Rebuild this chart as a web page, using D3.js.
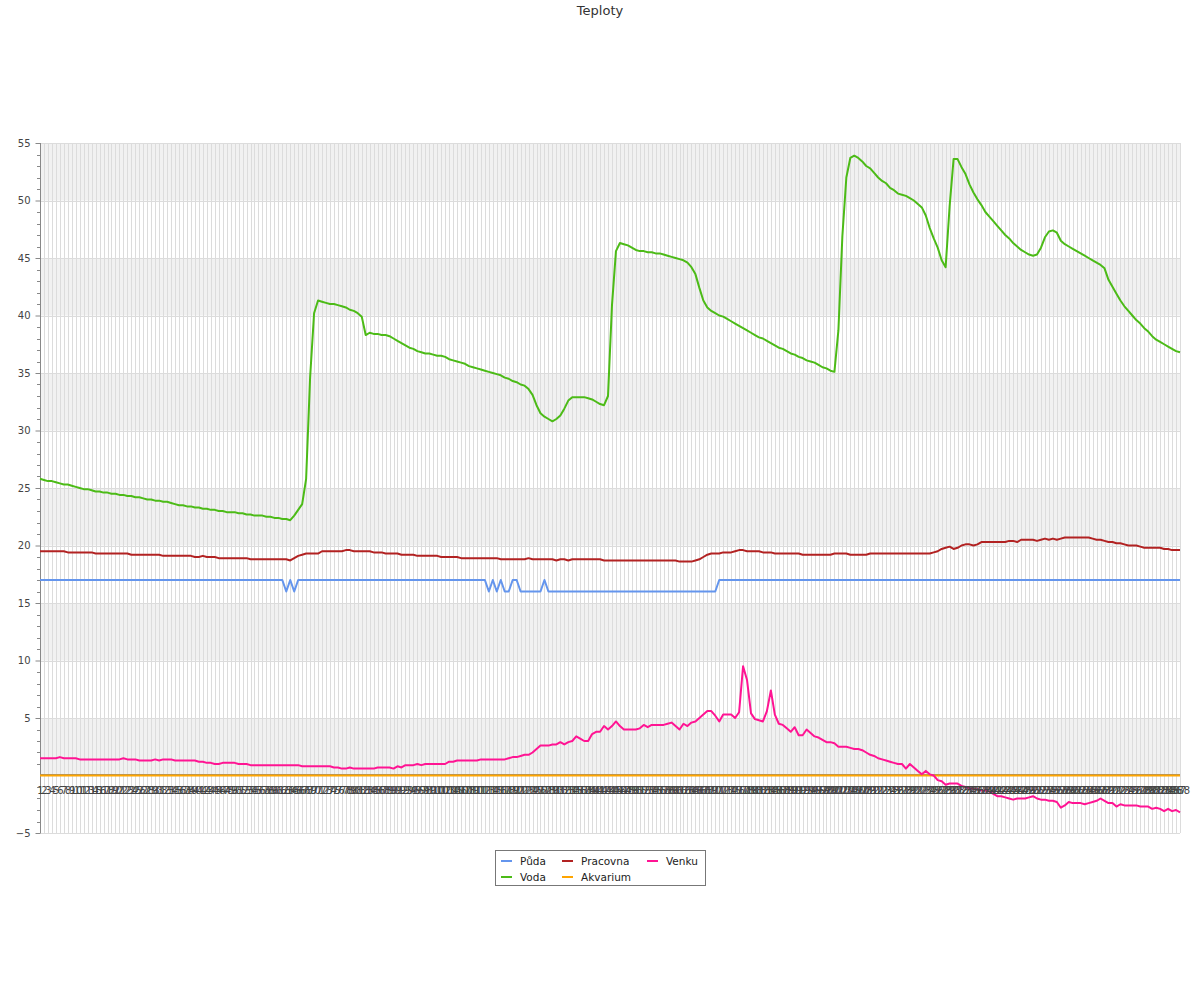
<!DOCTYPE html>
<html>
<head>
<meta charset="utf-8">
<script src="https://cdn.jsdelivr.net/npm/d3@7"></script>
<style>
  html, body { margin: 0; padding: 0; background: #fff; }
  svg { display: block; font-family: "DejaVu Sans", sans-serif; }
</style>
</head>
<body>
<svg id="chart" width="1200" height="1000"></svg>
<script>
const title = "Teploty";
const categories = d3.range(1, 289).map(String);
const yTickValues = [-5, 5, 10, 15, 20, 25, 30, 35, 40, 45, 50, 55];
const seriesNames = ["Půda", "Voda", "Pracovna", "Akvarium", "Venku"];
const seriesColors = ["#6495ED", "#4CBB17", "#B22222", "#FFA500", "#FF1493"];

const puda = [
17,17,17,17,17,17,17,17,17,17, 17,17,17,17,17,17,17,17,17,17,
17,17,17,17,17,17,17,17,17,17, 17,17,17,17,17,17,17,17,17,17,
17,17,17,17,17,17,17,17,17,17, 17,17,17,17,17,17,17,17,17,17,
17,17,16,17,16,17,17,17,17,17, 17,17,17,17,17,17,17,17,17,17,
17,17,17,17,17,17,17,17,17,17, 17,17,17,17,17,17,17,17,17,17,
17,17,17,17,17,17,17,17,17,17, 17,17,17,16,17,16,17,16,16,17,
17,16,16,16,16,16,16,17,16,16, 16,16,16,16,16,16,16,16,16,16,
16,16,16,16,16,16,16,16,16,16, 16,16,16,16,16,16,16,16,16,16,
16,16,16,16,16,16,16,16,16,16, 16,17,17,17,17,17,17,17,17,17,
17,17,17,17,17,17,17,17,17,17, 17,17,17,17,17,17,17,17,17,17,
17,17,17,17,17,17,17,17,17,17, 17,17,17,17,17,17,17,17,17,17,
17,17,17,17,17,17,17,17,17,17, 17,17,17,17,17,17,17,17,17,17,
17,17,17,17,17,17,17,17,17,17, 17,17,17,17,17,17,17,17,17,17,
17,17,17,17,17,17,17,17,17,17, 17,17,17,17,17,17,17,17,17,17,
17,17,17,17,17,17,17,17
];

const voda = [
25.8,25.7,25.6,25.6,25.5,25.4,25.3,25.3,25.2,25.1,
25.0,24.9,24.9,24.8,24.7,24.7,24.6,24.6,24.5,24.5,
24.4,24.4,24.3,24.3,24.2,24.2,24.1,24.0,24.0,23.9,
23.9,23.8,23.8,23.7,23.6,23.5,23.5,23.4,23.4,23.3,
23.3,23.2,23.2,23.1,23.1,23.0,23.0,22.9,22.9,22.9,
22.8,22.8,22.7,22.7,22.6,22.6,22.6,22.5,22.5,22.4,
22.4,22.3,22.3,22.2,22.6,23.1,23.6,25.8,34.6,40.2,
41.3,41.2,41.1,41.0,41.0,40.9,40.8,40.7,40.5,40.4,
40.2,39.9,38.3,38.5,38.4,38.4,38.3,38.3,38.2,38.0,
37.8,37.6,37.4,37.2,37.1,36.9,36.8,36.7,36.7,36.6,
36.5,36.5,36.4,36.2,36.1,36.0,35.9,35.8,35.6,35.5,
35.4,35.3,35.2,35.1,35.0,34.9,34.8,34.6,34.5,34.3,
34.2,34.0,33.9,33.6,33.1,32.2,31.5,31.2,31.0,30.8,
31.0,31.3,31.9,32.6,32.9,32.9,32.9,32.9,32.8,32.7,
32.5,32.3,32.2,33.0,40.9,45.6,46.3,46.2,46.1,45.9,
45.7,45.6,45.6,45.5,45.5,45.4,45.4,45.3,45.2,45.1,
45.0,44.9,44.8,44.6,44.2,43.6,42.4,41.3,40.7,40.4,
40.2,40.0,39.9,39.7,39.5,39.3,39.1,38.9,38.7,38.5,
38.3,38.1,38.0,37.8,37.6,37.4,37.2,37.1,36.9,36.7,
36.6,36.4,36.3,36.1,36.0,35.9,35.7,35.5,35.4,35.2,
35.1,38.7,46.9,52.0,53.7,53.9,53.7,53.4,53.0,52.8,
52.4,52.0,51.7,51.5,51.1,50.9,50.6,50.5,50.4,50.2,
50.0,49.7,49.4,48.7,47.6,46.7,45.9,44.8,44.2,49.5,
53.6,53.6,52.9,52.3,51.4,50.7,50.1,49.6,49.0,48.6,
48.2,47.8,47.4,47.0,46.7,46.3,46.0,45.7,45.5,45.3,
45.2,45.3,45.9,46.8,47.3,47.4,47.2,46.5,46.2,46.0,
45.8,45.6,45.4,45.2,45.0,44.8,44.6,44.4,44.1,43.1,
42.5,41.9,41.3,40.8,40.4,40.0,39.6,39.3,38.9,38.6,
38.2,37.9,37.7,37.5,37.3,37.1,36.9,36.8
];

const pracovna = [
19.5,19.5,19.5,19.5,19.5,19.5,19.5,19.4,19.4,19.4,
19.4,19.4,19.4,19.4,19.3,19.3,19.3,19.3,19.3,19.3,
19.3,19.3,19.3,19.2,19.2,19.2,19.2,19.2,19.2,19.2,
19.2,19.1,19.1,19.1,19.1,19.1,19.1,19.1,19.1,19.0,
19.0,19.1,19.0,19.0,19.0,18.9,18.9,18.9,18.9,18.9,
18.9,18.9,18.9,18.8,18.8,18.8,18.8,18.8,18.8,18.8,
18.8,18.8,18.8,18.7,18.9,19.1,19.2,19.3,19.3,19.3,
19.3,19.5,19.5,19.5,19.5,19.5,19.5,19.6,19.6,19.5,
19.5,19.5,19.5,19.5,19.4,19.4,19.4,19.3,19.3,19.3,
19.3,19.2,19.2,19.2,19.2,19.1,19.1,19.1,19.1,19.1,
19.1,19.0,19.0,19.0,19.0,19.0,18.9,18.9,18.9,18.9,
18.9,18.9,18.9,18.9,18.9,18.9,18.8,18.8,18.8,18.8,
18.8,18.8,18.8,18.9,18.8,18.8,18.8,18.8,18.8,18.8,
18.7,18.8,18.8,18.7,18.8,18.8,18.8,18.8,18.8,18.8,
18.8,18.8,18.7,18.7,18.7,18.7,18.7,18.7,18.7,18.7,
18.7,18.7,18.7,18.7,18.7,18.7,18.7,18.7,18.7,18.7,
18.7,18.6,18.6,18.6,18.6,18.7,18.8,19.0,19.2,19.3,
19.3,19.3,19.4,19.4,19.4,19.5,19.6,19.6,19.5,19.5,
19.5,19.5,19.4,19.4,19.4,19.3,19.3,19.3,19.3,19.3,
19.3,19.3,19.2,19.2,19.2,19.2,19.2,19.2,19.2,19.2,
19.3,19.3,19.3,19.3,19.2,19.2,19.2,19.2,19.2,19.3,
19.3,19.3,19.3,19.3,19.3,19.3,19.3,19.3,19.3,19.3,
19.3,19.3,19.3,19.3,19.3,19.4,19.5,19.7,19.8,19.9,
19.7,19.8,20.0,20.1,20.1,20.0,20.1,20.3,20.3,20.3,
20.3,20.3,20.3,20.3,20.4,20.4,20.3,20.5,20.5,20.5,
20.5,20.4,20.5,20.6,20.5,20.6,20.5,20.6,20.7,20.7,
20.7,20.7,20.7,20.7,20.7,20.6,20.5,20.5,20.4,20.3,
20.3,20.2,20.2,20.1,20.0,20.0,20.0,19.9,19.8,19.8,
19.8,19.8,19.8,19.7,19.7,19.6,19.6,19.6
];

const akvarium = [
0,0,0,0,0,0,0,0,0,0, 0,0,0,0,0,0,0,0,0,0, 0,0,0,0,0,0,0,0,0,0, 0,0,0,0,0,0,0,0,0,0,
0,0,0,0,0,0,0,0,0,0, 0,0,0,0,0,0,0,0,0,0, 0,0,0,0,0,0,0,0,0,0, 0,0,0,0,0,0,0,0,0,0,
0,0,0,0,0,0,0,0,0,0, 0,0,0,0,0,0,0,0,0,0, 0,0,0,0,0,0,0,0,0,0, 0,0,0,0,0,0,0,0,0,0,
0,0,0,0,0,0,0,0,0,0, 0,0,0,0,0,0,0,0,0,0, 0,0,0,0,0,0,0,0,0,0, 0,0,0,0,0,0,0,0,0,0,
0,0,0,0,0,0,0,0,0,0, 0,0,0,0,0,0,0,0,0,0, 0,0,0,0,0,0,0,0,0,0, 0,0,0,0,0,0,0,0,0,0,
0,0,0,0,0,0,0,0,0,0, 0,0,0,0,0,0,0,0,0,0, 0,0,0,0,0,0,0,0,0,0, 0,0,0,0,0,0,0,0,0,0,
0,0,0,0,0,0,0,0,0,0, 0,0,0,0,0,0,0,0,0,0, 0,0,0,0,0,0,0,0,0,0, 0,0,0,0,0,0,0,0,0,0,
0,0,0,0,0,0,0,0
];

const venku = [
1.5,1.5,1.5,1.5,1.5,1.6,1.5,1.5,1.5,1.5,
1.4,1.4,1.4,1.4,1.4,1.4,1.4,1.4,1.4,1.4,
1.4,1.5,1.4,1.4,1.4,1.3,1.3,1.3,1.3,1.4,
1.3,1.4,1.4,1.4,1.3,1.3,1.3,1.3,1.3,1.3,
1.2,1.2,1.1,1.1,1.0,1.0,1.1,1.1,1.1,1.1,
1.0,1.0,1.0,0.9,0.9,0.9,0.9,0.9,0.9,0.9,
0.9,0.9,0.9,0.9,0.9,0.9,0.8,0.8,0.8,0.8,
0.8,0.8,0.8,0.8,0.7,0.7,0.6,0.6,0.7,0.6,
0.6,0.6,0.6,0.6,0.6,0.7,0.7,0.7,0.7,0.6,
0.8,0.7,0.9,0.9,0.9,1.0,0.9,1.0,1.0,1.0,
1.0,1.0,1.0,1.2,1.2,1.3,1.3,1.3,1.3,1.3,
1.3,1.4,1.4,1.4,1.4,1.4,1.4,1.4,1.5,1.6,
1.6,1.7,1.8,1.8,2.0,2.3,2.6,2.6,2.6,2.7,
2.7,2.9,2.7,2.9,3.0,3.4,3.2,3.0,3.0,3.6,
3.8,3.8,4.3,4.0,4.3,4.7,4.3,4.0,4.0,4.0,
4.0,4.1,4.4,4.2,4.4,4.4,4.4,4.4,4.5,4.6,
4.3,4.0,4.5,4.3,4.6,4.7,5.0,5.3,5.6,5.6,
5.2,4.7,5.3,5.3,5.3,5.0,5.5,9.5,8.3,5.4,
4.9,4.8,4.7,5.6,7.4,5.3,4.5,4.4,4.1,3.8,
4.2,3.5,3.5,4.0,3.7,3.4,3.3,3.1,2.9,2.9,
2.8,2.5,2.5,2.5,2.4,2.3,2.3,2.2,2.0,1.8,
1.7,1.5,1.4,1.3,1.2,1.1,1.0,1.0,0.6,1.0,
0.7,0.4,0.1,0.4,0.1,0.0,-0.4,-0.5,-0.8,-0.7,
-0.7,-0.7,-0.9,-1.0,-1.1,-1.2,-1.2,-1.3,-1.3,-1.4,
-1.6,-1.8,-1.8,-1.9,-2.0,-2.1,-2.0,-2.0,-2.0,-1.9,
-1.8,-2.0,-2.1,-2.1,-2.2,-2.2,-2.3,-2.8,-2.6,-2.3,
-2.4,-2.4,-2.4,-2.5,-2.4,-2.3,-2.2,-2.0,-2.2,-2.4,
-2.4,-2.7,-2.5,-2.6,-2.6,-2.6,-2.6,-2.7,-2.7,-2.7,
-2.9,-2.8,-2.9,-3.1,-2.9,-3.1,-3.0,-3.2
];

const seriesValues = [puda, voda, pracovna, akvarium, venku];

// ---------- drawing ----------
const svg = d3.select("#chart");
const plotLeft = 40, plotRight = 1180, plotTop = 143, plotBottom = 833;

const x = d3.scalePoint().domain(categories).range([plotLeft, plotRight]).padding(0);
const y = d3.scaleLinear().domain([-5, 55]).range([plotBottom, plotTop]);

// title
svg.append("text")
  .attr("x", 600).attr("y", 15)
  .attr("text-anchor", "middle")
  .attr("font-size", 13)
  .attr("fill", "#333")
  .text(title);

// alternating bands
const bandStarts = d3.range(-5, 55, 5);
svg.append("g").selectAll("rect")
  .data(bandStarts.filter(v => ((v + 5) / 5) % 2 === 1))
  .join("rect")
  .attr("x", plotLeft)
  .attr("y", d => y(d + 5))
  .attr("width", plotRight - plotLeft)
  .attr("height", d => y(d) - y(d + 5))
  .attr("fill", "#f1f1f1");

// vertical grid lines
svg.append("g").selectAll("line")
  .data(categories)
  .join("line")
  .attr("x1", d => Math.round(x(d)) + 0.5)
  .attr("x2", d => Math.round(x(d)) + 0.5)
  .attr("y1", plotTop).attr("y2", plotBottom)
  .attr("stroke", "#dcdcdc").attr("stroke-width", 1);

// horizontal grid lines
svg.append("g").selectAll("line")
  .data(yTickValues)
  .join("line")
  .attr("x1", plotLeft).attr("x2", plotRight)
  .attr("y1", d => Math.round(y(d)) + 0.5)
  .attr("y2", d => Math.round(y(d)) + 0.5)
  .attr("stroke", "#dcdcdc").attr("stroke-width", 1);

// minor ticks on y axis
svg.append("g").selectAll("line")
  .data(d3.range(-5, 56, 1).filter(v => v % 5 !== 0))
  .join("line")
  .attr("x1", plotLeft - 3).attr("x2", plotLeft)
  .attr("y1", d => Math.round(y(d)) + 0.5)
  .attr("y2", d => Math.round(y(d)) + 0.5)
  .attr("stroke", "#888");

// y axis
const yAxis = d3.axisLeft(y).tickValues(yTickValues).tickSize(5).tickPadding(5).tickFormat(d3.format("d"));
const gy = svg.append("g").attr("transform", `translate(${plotLeft + 0.5},0)`).call(yAxis);
gy.select(".domain").attr("stroke", "#888").attr("d", `M0,${plotTop}V${plotBottom}`);
gy.selectAll(".tick line").attr("stroke", "#888");
gy.selectAll(".tick text").attr("fill", "#444").attr("font-size", 10).attr("font-family", "DejaVu Sans, sans-serif");

// zero axis line
svg.append("line")
  .attr("x1", plotLeft).attr("x2", plotRight)
  .attr("y1", Math.round(y(0)) - 0.5).attr("y2", Math.round(y(0)) - 0.5)
  .attr("stroke", "#888").attr("stroke-width", 1);

// series lines
const line = d3.line()
  .x((d, i) => x(categories[i]))
  .y(d => y(d));
svg.append("g").selectAll("path")
  .data(seriesValues)
  .join("path")
  .attr("d", d => line(d))
  .attr("fill", "none")
  .attr("stroke", (d, i) => seriesColors[i])
  .attr("stroke-width", 2)
  .attr("stroke-linejoin", "round");

// x axis labels (drawn over the series)
const xAxis = d3.axisBottom(x).tickSize(0).tickPadding(11);
const gx = svg.append("g").attr("transform", `translate(0,${y(0)})`).call(xAxis);
gx.select(".domain").remove();
gx.selectAll(".tick text").attr("fill", "#444").attr("font-size", 10).attr("font-family", "DejaVu Sans, sans-serif");

// legend
const lg = svg.append("g");
lg.append("rect")
  .attr("x", 495.5).attr("y", 850.5)
  .attr("width", 210).attr("height", 35)
  .attr("fill", "#fff").attr("stroke", "#777");
const legendCols = [501, 562, 647];
seriesNames.forEach((name, i) => {
  const col = Math.floor(i / 2), row = i % 2;
  const lx = legendCols[col], ly = 861 + row * 16;
  lg.append("line")
    .attr("x1", lx).attr("x2", lx + 11)
    .attr("y1", ly).attr("y2", ly)
    .attr("stroke", seriesColors[i]).attr("stroke-width", 2);
  lg.append("text")
    .attr("x", lx + 19).attr("y", ly + 4)
    .attr("font-size", 10.5).attr("fill", "#222")
    .text(name);
});
</script>
</body>
</html>
